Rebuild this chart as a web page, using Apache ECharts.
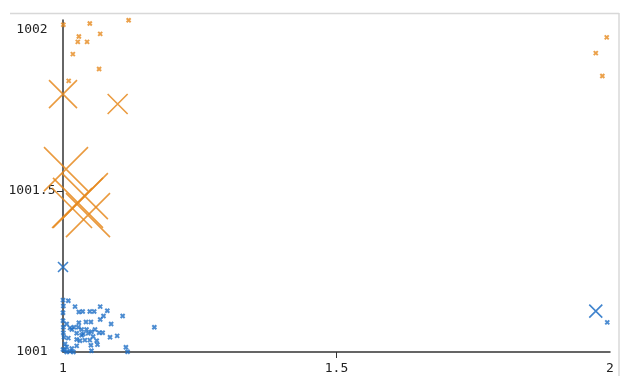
<!DOCTYPE html>
<html><head><meta charset="utf-8">
<script src="https://cdn.jsdelivr.net/npm/echarts@6/dist/echarts.min.js"></script>
<style>html,body{margin:0;padding:0;background:#fff}#c{width:621px;height:376px}</style>
</head><body><div id="c"></div>
<script>
// Orange series (values near 1002 and mid)
const orangeX = [1.0006,1.049,1.12,1.029,1.027,1.044,1.068,1.018,1.066,1.0104,1.0,1.0999,1.0055,1.040,1.0274,1.0457,1.0165,1.994,2.001,1.974,1.986];
const orangeY = [1002.016,1002.02,1002.03,1001.98,1001.963,1001.963,1001.988,1001.925,1001.879,1001.842,1001.801,1001.770,1001.568,1001.484,1001.463,1001.425,1001.447,1001.977,1001.938,1001.928,1001.857];
const orangeSize = [4,4,4,4,4,4,4,4,4,4,28,20,44,46,50,44,40,4,4,4,4];
// Blue series (values near 1001)
const blueX = [1.0,1.0097,1.0006,1.022,1.029,1.036,1.049,1.057,1.068,1.081,1.0,1.068,1.074,1.109,1.029,1.042,1.051,1.0006,1.0128,1.020,1.028,1.034,1.043,1.0585,1.066,1.0725,1.037,1.046,1.052,1.088,1.167,1.0006,1.0018,1.0097,1.025,1.031,1.040,1.049,1.0616,1.086,1.099,1.0037,1.0067,1.016,1.025,1.051,1.063,1.0,1.0067,1.019,1.052,1.115,1.118,1.0037,1.0128,1.0,1.0067,1.016,1.025,1.034,1.055,1.0,1.974,1.995];
const blueY = [1001.161,1001.159,1001.143,1001.141,1001.124,1001.126,1001.126,1001.126,1001.141,1001.128,1001.122,1001.101,1001.112,1001.112,1001.091,1001.093,1001.093,1001.077,1001.075,1001.077,1001.077,1001.070,1001.070,1001.070,1001.060,1001.060,1001.056,1001.058,1001.063,1001.087,1001.077,1001.060,1001.046,1001.043,1001.039,1001.035,1001.037,1001.037,1001.035,1001.046,1001.050,1001.025,1001.016,1001.011,1001.019,1001.021,1001.023,1001.008,1001.0,1001.0,1001.004,1001.015,1001.001,1001.006,1001.002,1001.097,1001.087,1001.070,1001.058,1001.052,1001.048,1001.264,1001.127,1001.092];
const blueSize = [4,4,4,4,4,4,4,4,4,4,4,4,4,4,4,4,4,4,4,4,4,4,4,4,4,4,4,4,4,4,4,4,4,4,4,4,4,4,4,4,4,4,4,4,4,4,4,4,4,4,4,4,4,4,4,4,4,4,4,4,4,10,13,4];
// Tick labels
const xTicks = [1, 1.5, 2];
const yTicks = [1001, 1001.5, 1002];

const ORANGE = '#e68a1e', BLUE = '#1f6fc5';
const CROSS = 'path://M0,0L10,10M10,0L0,10';
function build(xs, ys, ss){ return xs.map(function(x,i){ return [x, ys[i], ss[i]]; }); }

const chart = echarts.init(document.getElementById('c'), null, {renderer:'canvas'});
const font = 'DejaVu Sans Mono';
function crossSeries(xs, ys, ss, color){
  const small = [], big = [];
  build(xs, ys, ss).forEach(function(d){ (d[2] <= 5 ? small : big).push(d); });
  return [
    {type:'scatter', data: big, symbol: CROSS, symbolSize: function(v){ return v[2]; },
     itemStyle: {color: 'rgba(0,0,0,0)', borderColor: color, borderWidth: 1.6, opacity: 0.85}},
    {type:'scatter', data: small, symbol: CROSS, symbolSize: function(v){ return v[2]; },
     itemStyle: {color: 'rgba(0,0,0,0)', borderColor: color, borderWidth: 2}}
  ];
}
chart.setOption({
  animation: false,
  grid: {left: 63, right: 11, top: 20, bottom: 24},
  xAxis: {
    type: 'value', min: 1, max: 2,
    splitLine: {show: false},
    axisLine: {lineStyle: {color: '#333', width: 1.5}},
    axisTick: {show: true, customValues: [1.5], length: 6, lineStyle: {color: '#333'}},
    axisLabel: {customValues: xTicks, fontFamily: font, fontSize: 13, color: '#222', margin: 10,
      formatter: function(v){ return String(v); }}
  },
  yAxis: {
    type: 'value', min: 1001, max: 1002.031,
    splitLine: {show: false},
    axisLine: {show: true, lineStyle: {color: '#333', width: 1.5}},
    axisTick: {show: true, customValues: [1001.5], length: 6, lineStyle: {color: '#333'}},
    axisLabel: {customValues: yTicks, fontFamily: font, fontSize: 13, color: '#222', margin: 31, align: 'center',
      formatter: function(v){ return String(v); }}
  },
  graphic: [
    {type:'line', shape:{x1:10, y1:13.5, x2:619, y2:13.5}, style:{stroke:'#d8d8d8', lineWidth:1.5}},
    {type:'line', shape:{x1:619, y1:13, x2:619, y2:376}, style:{stroke:'#d8d8d8', lineWidth:1.5}}
  ],
  series: crossSeries(orangeX, orangeY, orangeSize, ORANGE).concat(crossSeries(blueX, blueY, blueSize, BLUE))
});
</script></body></html>
